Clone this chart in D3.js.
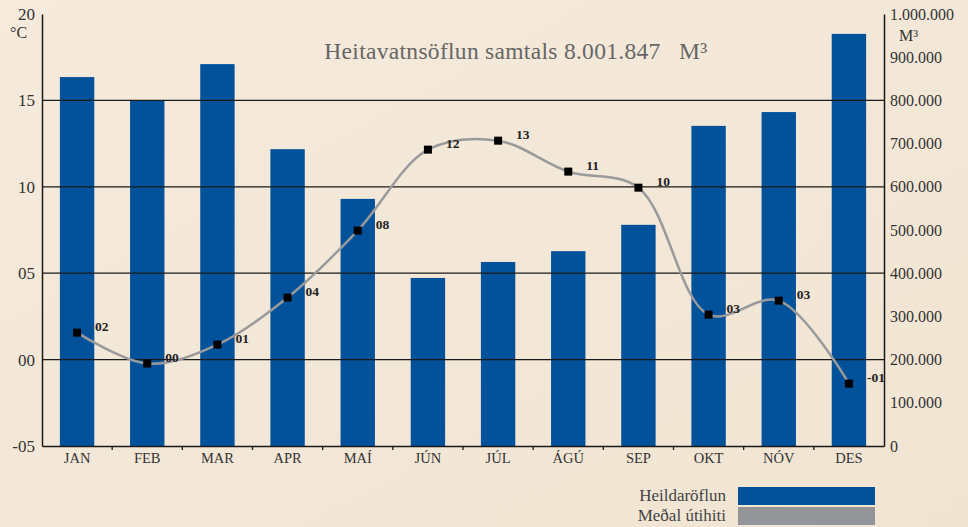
<!DOCTYPE html>
<html>
<head>
<meta charset="utf-8">
<script src="https://cdn.jsdelivr.net/npm/d3@7"></script>
<style>
  body { margin: 0; background: #f3e7d7; }
  svg { display: block; }
</style>
</head>
<body>
<script>
var months = ["JAN", "FEB", "MAR", "APR", "MAÍ", "JÚN", "JÚL", "ÁGÚ", "SEP", "OKT", "NÓV", "DES"];
// heildaröflun, m3
var flow = [854000, 799000, 884000, 687000, 572000, 389000, 426000, 451000, 512000, 741000, 773000, 954000];
// meðal útihiti, °C
var temp = [1.56, -0.23, 0.87, 3.59, 7.47, 12.15, 12.67, 10.88, 9.95, 2.6, 3.41, -1.39];
var tempLabels = ["02", "00", "01", "04", "08", "12", "13", "11", "10", "03", "03", "-01"];
var leftTicks = [-5, 0, 5, 10, 15, 20];
var leftTickLabels = ["-05", "00", "05", "10", "15", "20"];
var rightTicks = [0, 100000, 200000, 300000, 400000, 500000, 600000, 700000, 800000, 900000, 1000000];

var W = 968, H = 527;
var mLeft = 42, mRight = 884, mTop = 14, mBottom = 446;
var serif = "'Liberation Serif', 'DejaVu Serif', serif";

var svg = d3.select("body").append("svg")
    .attr("width", W)
    .attr("height", H);

// background with slight paper tone
var defs = svg.append("defs");
var grad = defs.append("linearGradient").attr("id", "paper")
    .attr("x1", 0).attr("y1", 0).attr("x2", 1).attr("y2", 1);
grad.append("stop").attr("offset", "0%").attr("stop-color", "#f5eadc");
grad.append("stop").attr("offset", "100%").attr("stop-color", "#f1e4d2");
svg.append("rect").attr("width", W).attr("height", H).attr("fill", "url(#paper)");

var x = d3.scaleBand()
    .domain(months)
    .range([mLeft, mRight])
    .paddingInner(0.51)
    .paddingOuter(0.255);

var xEdges = d3.scaleBand().domain(months).range([mLeft, mRight]);

var yT = d3.scaleLinear().domain([-5, 20]).range([mBottom, mTop]);
var yF = d3.scaleLinear().domain([0, 1000000]).range([mBottom, mTop]);

// bars
svg.selectAll("rect.bar")
    .data(flow)
    .enter()
    .append("rect")
    .attr("class", "bar")
    .attr("x", function (d, i) { return x(months[i]); })
    .attr("y", function (d) { return yF(d); })
    .attr("width", x.bandwidth())
    .attr("height", function (d) { return mBottom - yF(d); })
    .attr("fill", "#02519b");

// horizontal grid lines
svg.selectAll("line.grid")
    .data([0, 5, 10, 15])
    .enter()
    .append("line")
    .attr("x1", mLeft).attr("x2", mRight)
    .attr("y1", function (d) { return yT(d); })
    .attr("y2", function (d) { return yT(d); })
    .attr("stroke", "#1a1a1a")
    .attr("stroke-width", 1.3);

// left axis
var leftAxis = d3.axisLeft(yT)
    .tickValues(leftTicks)
    .tickSize(0)
    .tickPadding(7)
    .tickFormat(function (d, i) { return leftTickLabels[i]; });
var gl = svg.append("g").attr("transform", "translate(" + mLeft + ",0)").call(leftAxis);
gl.select(".domain").attr("stroke", "#1a1a1a").attr("stroke-width", 1.5);
gl.selectAll("text").attr("font-family", serif).attr("font-size", 17).attr("fill", "#333");

// right axis
var rightAxis = d3.axisRight(yF)
    .tickValues(rightTicks)
    .tickSize(0)
    .tickPadding(6)
    .tickFormat(function (d) { return d === 0 ? "0" : d3.format(",")(d).replace(/,/g, "."); });
var gr = svg.append("g").attr("transform", "translate(" + mRight + ",0)").call(rightAxis);
gr.select(".domain").attr("stroke", "#1a1a1a").attr("stroke-width", 1.5);
gr.selectAll("text").attr("font-family", serif).attr("font-size", 16).attr("fill", "#333");

// bottom axis
var bottomAxis = d3.axisBottom(x).tickSize(0).tickPadding(7);
var gb = svg.append("g").attr("transform", "translate(0," + mBottom + ")").call(bottomAxis);
gb.select(".domain").attr("stroke", "#1a1a1a").attr("stroke-width", 1.5);
gb.selectAll("text").attr("font-family", serif).attr("font-size", 14.5).attr("fill", "#333");
gb.selectAll("line.edge")
    .data(months.slice(1))
    .enter()
    .append("line")
    .attr("x1", function (d) { return xEdges(d); })
    .attr("x2", function (d) { return xEdges(d); })
    .attr("y1", 0).attr("y2", 4)
    .attr("stroke", "#1a1a1a").attr("stroke-width", 1.3);

// unit labels
svg.append("text").attr("x", 10).attr("y", 38).text("°C")
    .attr("font-family", serif).attr("font-size", 16).attr("fill", "#333");
svg.append("text").attr("x", 899).attr("y", 41).text("M³")
    .attr("font-family", serif).attr("font-size", 16).attr("fill", "#333");

// title
svg.append("text").attr("x", 516).attr("y", 59).attr("text-anchor", "middle")
    .text("Heitavatnsöflun samtals 8.001.847\u00a0\u00a0\u00a0M³")
    .attr("font-family", serif).attr("font-size", 23.5).attr("letter-spacing", 0.3)
    .attr("fill", "#666");

// temperature line
var cx = function (d, i) { return x(months[i]) + x.bandwidth() / 2; };
var line = d3.line()
    .x(cx)
    .y(function (d) { return yT(d); })
    .curve(d3.curveCatmullRom.alpha(0.5));

svg.append("path")
    .datum(temp)
    .attr("d", line)
    .attr("fill", "none")
    .attr("stroke", "#999a9c")
    .attr("stroke-width", 2.5);

svg.selectAll("rect.pt")
    .data(temp)
    .enter()
    .append("rect")
    .attr("class", "pt")
    .attr("x", function (d, i) { return cx(d, i) - 4; })
    .attr("y", function (d) { return yT(d) - 4; })
    .attr("width", 8).attr("height", 8)
    .attr("fill", "#000");

svg.selectAll("text.lbl")
    .data(temp)
    .enter()
    .append("text")
    .attr("class", "lbl")
    .text(function (d, i) { return tempLabels[i]; })
    .attr("x", function (d, i) { return cx(d, i) + 18; })
    .attr("y", function (d) { return yT(d) - 2; })
    .attr("font-family", serif)
    .attr("font-size", 13.5)
    .attr("font-weight", "bold")
    .attr("fill", "#222");

// legend
var legend = [["Heildaröflun", "#02519b"], ["Meðal útihiti", "#939598"]];
var lg = svg.selectAll("g.legend")
    .data(legend)
    .enter()
    .append("g")
    .attr("transform", function (d, i) { return "translate(0," + (487 + i * 20) + ")"; });
lg.append("rect").attr("x", 738).attr("y", 0).attr("width", 137).attr("height", 18)
    .attr("fill", function (d) { return d[1]; });
lg.append("text").attr("x", 726).attr("y", 14).attr("text-anchor", "end")
    .text(function (d) { return d[0]; })
    .attr("font-family", serif).attr("font-size", 17).attr("fill", "#444");
</script>
</body>
</html>
